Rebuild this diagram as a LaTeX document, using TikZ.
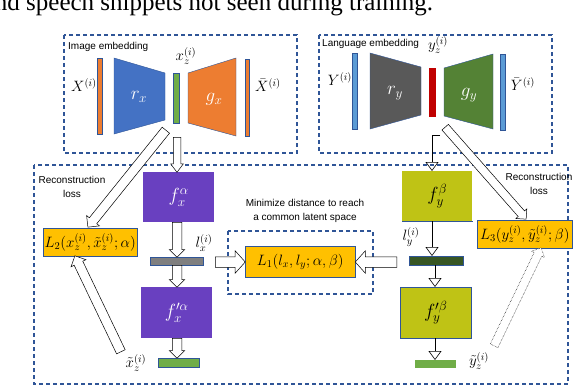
\RequirePackage{fix-cm}
\documentclass[tikz,border=0pt]{standalone}
\usepackage{fontspec}
\setmainfont{Liberation Serif}
\newfontfamily\arialf{Liberation Sans}
\usetikzlibrary{shapes.arrows,arrows.meta,calc}
\definecolor{dblue}{HTML}{2F5597}
\definecolor{cblue}{HTML}{4472C4}
\definecolor{corange}{HTML}{ED7D31}
\definecolor{cgreen}{HTML}{70AD47}
\definecolor{lblue}{HTML}{5B9BD5}
\definecolor{cgray}{HTML}{595959}
\definecolor{cred}{HTML}{C00000}
\definecolor{dgreen}{HTML}{548235}
\definecolor{ddgreen}{HTML}{375623}
\definecolor{cpurple}{HTML}{6940C0}
\definecolor{cgold}{HTML}{FFC000}
\definecolor{cyg}{HTML}{BFC315}
\definecolor{lgray}{HTML}{7F7F7F}
\tikzset{
  dbox/.style={draw=dblue, line width=1.1pt, dash pattern=on 4pt off 3pt},
  rbox/.style={anchor=north west, inner sep=0pt, draw=dblue, line width=0.5pt, fill=#1},
  trap/.style={fill=#1, draw=dblue, line width=0.4pt},
  lab/.style={font=\fontsize{15}{18}\selectfont, inner sep=0pt},
  wlab/.style={font=\fontsize{19}{22}\selectfont, inner sep=0pt, text=white},
  blab/.style={font=\fontsize{19}{22}\selectfont, inner sep=0pt, text=black},
  note/.style={font=\arialf\fontsize{10}{14}\selectfont, inner sep=0pt, align=center},
  blockarrow/.style={single arrow, draw=black, line width=0.5pt, fill=white, inner sep=0pt,
     text width=0pt, text depth=0pt, single arrow tip angle=90, anchor=tail},
  thinarr/.style={draw=black, line width=0.6pt, -{Triangle[open, length=9pt, width=13pt]}},
}
% block arrow: [style] {start} {end} {shaft} {head extend}
\newcommand\barrow[5][]{%
  \path let \p1=(#2), \p2=(#3), \n1={atan2(\y2-\y1,\x2-\x1)}, \n2={veclen(\x2-\x1,\y2-\y1)} in
    node[blockarrow, #1, rotate=\n1, minimum height=\n2, text height=#4, single arrow head extend=#5] at (\p1) {};}
\begin{document}
\begin{tikzpicture}[x=1pt,y=-1pt]
\useasboundingbox (0,0) rectangle (576,386);
% caption fragment
\node[anchor=base west, inner sep=0pt, font=\fontsize{25}{30}\selectfont] (cap) at (-5.25,10) {nd speech snippets not seen during training.};

% dashed containers
\draw[dbox] (64,35) rectangle (297,153);
\draw[dbox] (319,35) rectangle (552,153);
\draw[dbox] (34,165) rectangle (568,384);
\node[note, anchor=west] (imt) at (68,47) {Image embedding};
\node[note, anchor=west] (lgt) at (322,44) {Language embedding};

% image embedding
\node[rbox=corange, minimum width=5pt, minimum height=76pt] (Xb) at (97,58) {};
\draw[trap=cblue] (114,58) -- (165,73) -- (165,120) -- (114,134) -- cycle;
\node[wlab] (rx) at (139,97) {$r_x$};
\node[rbox=cgreen, minimum width=6pt, minimum height=50pt] (xz) at (173,73) {};
\draw[trap=corange] (188,73) -- (236,58) -- (236,136) -- (188,123) -- cycle;
\node[wlab] (gx) at (214,99) {$g_x$};
\node[rbox=corange, minimum width=4pt, minimum height=77pt] (Xr) at (245,59) {};
\node[lab] (Xl) at (84,85) {$X^{(i)}$};
\node[lab] (xzl) at (186,56) {$x_z^{(i)}$};
\node[lab] (Xrl) at (268,85) {$\bar{X}^{(i)}$};

% language embedding
\node[rbox=lblue, minimum width=5pt, minimum height=76pt] (Yb) at (352,53) {};
\draw[trap=cgray] (370,53) -- (421,67) -- (421,115) -- (370,129) -- cycle;
\node[wlab] (ry) at (395,93) {$r_y$};
\node[rbox=cred, minimum width=7pt, minimum height=49pt, draw=none] (yz) at (429,68) {};
\draw[trap=dgreen] (444,68) -- (493,54) -- (493,129) -- (444,116) -- cycle;
\node[wlab] (gy) at (469,95) {$g_y$};
\node[rbox=lblue, minimum width=5pt, minimum height=76pt] (Yr) at (500,54) {};
\node[lab] (Yl) at (340,79) {$Y^{(i)}$};
\node[lab] (yzl) at (438,45) {$y_z^{(i)}$};
\node[lab] (Yrl) at (523,84) {$\bar{Y}^{(i)}$};

% lower part: image branch
\node[rbox=cpurple, draw=none, minimum width=71pt, minimum height=50pt] (fx) at (143,172) {};
\node[wlab] at (fx.center) {$f_x^{\alpha}$};
\node[rbox=lgray, minimum width=53pt, minimum height=8pt] (lx) at (150,257) {};
\node[lab] (lxl) at (204,243) {$l_x^{(i)}$};
\node[rbox=cpurple, draw=none, minimum width=71pt, minimum height=51pt] (fxp) at (141,287) {};
\node[wlab] at (fxp.center) {$f_x^{\prime\alpha}$};
\node[rbox=cgreen, minimum width=41pt, minimum height=9pt] (xt) at (158,358) {};
\node[lab] (xtl) at (136,363) {$\tilde{x}_z^{(i)}$};
\node[rbox=cgold, minimum width=94pt, minimum height=28pt] (L2) at (43,228) {};
\node[lab] at (L2.center) {$L_2(x_z^{(i)},\tilde{x}_z^{(i)};\alpha)$};
\node[note] (rc1) at (72,187) {Reconstruction\\loss};

% middle
\node[note] (mid) at (305,210.5) {Minimize distance to reach\\a common latent space};
\draw[dbox] (228,231) rectangle (373,294);
\node[rbox=cgold, minimum width=110pt, minimum height=31pt] (L1) at (245,246) {};
\node[lab] at (L1.center) {$L_1(l_x,l_y;\alpha,\beta)$};

% language branch
\node[rbox=cyg, draw=none, minimum width=70pt, minimum height=50pt] (fy) at (402,171) {};
\draw[dblue, line width=0.6pt] (fy.south west) -- (fy.south east);
\node[blab] at (fy.center) {$f_y^{\beta}$};
\node[rbox=ddgreen, minimum width=54pt, minimum height=9pt] (ly) at (409,256) {};
\node[lab] (lyl) at (411,237) {$l_y^{(i)}$};
\node[rbox=cyg, minimum width=71pt, minimum height=51pt] (fyp) at (400,287) {};
\node[blab] at (fyp.center) {$f_y^{\prime\beta}$};
\node[rbox=cgreen, draw=none, minimum width=41pt, minimum height=8pt] (yt) at (415,360) {};
\node[lab] (ytl) at (479,361) {$\tilde{y}_z^{(i)}$};
\node[rbox=cgold, minimum width=95pt, minimum height=28pt] (L3) at (477,220) {};
\node[lab] at (L3.center) {$L_3(y_z^{(i)},\tilde{y}_z^{(i)};\beta)$};
\node[note] (rc2) at (539,184) {Reconstruction\\loss};

% block arrows (image side)
\coordinate (a1s) at (177,137);
\barrow[single arrow tip angle=74]{a1s}{fx.north -| a1s}{7pt}{2.5pt}
\coordinate (a2s) at (177,222);
\barrow{a2s}{lx.north -| a2s}{9pt}{3pt}
\coordinate (a3s) at (177,265);
\barrow{a3s}{fxp.north -| a3s}{9pt}{3pt}
\coordinate (a4s) at (177,338);
\barrow{a4s}{xt.north -| a4s}{9pt}{3pt}
\coordinate (a5s) at (215,262);
\barrow[single arrow tip angle=96]{a5s}{L1.west |- a5s}{10pt}{6pt}
\coordinate (a6s) at (397,262);
\barrow[single arrow tip angle=96]{a6s}{L1.east |- a6s}{10pt}{6pt}
\coordinate (a7s) at (166,130);
\coordinate (a7e) at (88,227);
\barrow{a7s}{a7e}{9pt}{3.5pt}
\coordinate (a8s) at (121,352);
\coordinate (a8e) at (75,256);
\barrow{a8s}{a8e}{9pt}{3.5pt}
\coordinate (a9s) at (445,127);
\coordinate (a9e) at (526,219);
\barrow{a9s}{a9e}{8pt}{3pt}
\coordinate (a10s) at (494,346);
\coordinate (a10e) at (541,248);
\barrow[densely dotted]{a10s}{a10e}{8pt}{3pt}

% thin arrows (language side)
\coordinate (t1a) at (440,135);
\coordinate (t1b) at (432,135);
\draw[thinarr] (t1a) -- (t1b) -- (t1b |- fy.north);
\coordinate (t2) at (432,221);
\draw[thinarr] (t2) -- (t2 |- ly.north);
\coordinate (t3) at (435,265);
\draw[thinarr] (t3) -- (t3 |- fyp.north);
\coordinate (t4) at (435,338);
\draw[thinarr] (t4) -- (t4 |- yt.north);
\end{tikzpicture}
\end{document}
